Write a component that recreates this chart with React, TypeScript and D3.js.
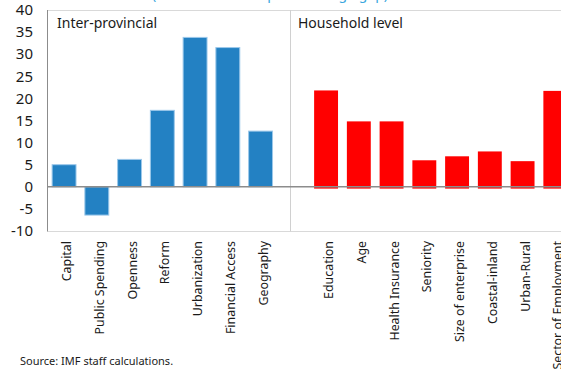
import * as React from 'react';
import { scaleBand, scaleLinear } from 'd3';

const interCats = ['Capital', 'Public Spending', 'Openness', 'Reform', 'Urbanization', 'Financial Access', 'Geography'];
const interVals = [5.0, -6.4, 6.2, 17.3, 33.8, 31.5, 12.6];
const houseCats = ['Education', 'Age', 'Health Insurance', 'Seniority', 'Size of enterprise', 'Coastal-inland', 'Urban-Rural', 'Sector of Employment'];
const houseVals = [21.8, 14.8, 14.8, 6.0, 6.9, 8.0, 5.8, 21.7];
const yTicks = [-10, -5, 0, 5, 10, 15, 20, 25, 30, 35, 40];
const GAP = '__gap__';

const W = 561;
const H = 370;
const FONT = '"Noto Sans", sans-serif';

export default function App() {
  // one band per category, plus an empty one between the two panels
  const domain = [...interCats, GAP, ...houseCats];
  const x = scaleBand<string>().domain(domain).range([47.7, 571.7]).paddingInner(0.27).paddingOuter(0.135);
  const y = scaleLinear().domain([-10, 40]).range([231, 10]);
  const y0 = y(0);
  const divX = 290.5;

  return (
    <svg width={W} height={H} style={{ position: 'absolute', left: 0, top: 0, background: '#fff' }}
      fontFamily={FONT}>
      {/* cut-off subtitle at the very top */}
      <text x={152} y={-1.5} fontSize={14} fill="#3aa6de">(Percent of the explained wage gap)</text>

      {/* frame */}
      <line x1={47.5} x2={W} y1={10.5} y2={10.5} stroke="#d9d9d9" />
      <line x1={47.5} x2={W} y1={231.5} y2={231.5} stroke="#d9d9d9" />
      <line x1={divX} x2={divX} y1={10} y2={231.5} stroke="#d0d0d0" />
      <line x1={47.5} x2={47.5} y1={10} y2={231.5} stroke="#8c8c8c" />

      {/* y tick labels */}
      {yTicks.map(t => (
        <text key={t} x={33} y={y(t)} dy="0.35em" textAnchor="end" fontSize={15} fill="#1a1a1a">{t}</text>
      ))}

      {/* panel titles */}
      <text x={57} y={28} fontSize={14} fill="#1a1a1a">Inter-provincial</text>
      <text x={298} y={28} fontSize={14} fill="#1a1a1a">Household level</text>

      {/* inter-provincial bars */}
      {interCats.map((c, i) => {
        const v = interVals[i];
        return (
          <rect key={c} x={x(c)} width={x.bandwidth()}
            y={Math.min(y(v), y0)} height={Math.abs(y(v) - y0)}
            fill="#2381c3" stroke="#9cc8ea" strokeWidth={1} />
        );
      })}

      {/* household bars */}
      {houseCats.map((c, i) => {
        const v = houseVals[i];
        return (
          <rect key={c} x={x(c)} width={x.bandwidth()}
            y={y(v)} height={y0 - y(v) + 1.8} fill="#ff0000" />
        );
      })}

      {/* zero line */}
      <line x1={47.5} x2={W} y1={y0} y2={y0} stroke="#8c8c8c" strokeWidth={1.5} />

      {/* category labels */}
      {[...interCats, ...houseCats].map(c => (
        <text key={c} transform={`translate(${(x(c) ?? 0) + x.bandwidth() / 2 + 7},241) rotate(-90)`}
          textAnchor="end" fontSize={12.4} fill="#1a1a1a">{c}</text>
      ))}

      <text x={20} y={365} fontSize={11} fill="#1a1a1a">Source: IMF staff calculations.</text>
    </svg>
  );
}
